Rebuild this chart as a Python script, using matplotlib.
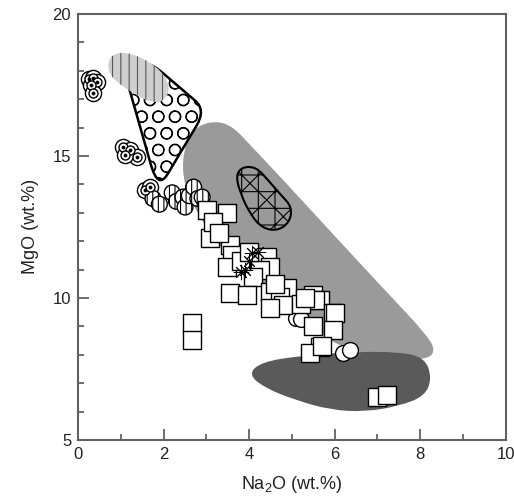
import numpy as np
import matplotlib
matplotlib.use("Agg")
import matplotlib.pyplot as plt
from matplotlib.path import Path
from matplotlib.patches import PathPatch

plt.rcParams['font.family'] = ['Liberation Sans', 'DejaVu Sans']
plt.rcParams['mathtext.default'] = 'regular'
plt.rcParams['hatch.linewidth'] = 0.8

# --- samples (Na2O, MgO in wt.%) ---
bull_na = [0.25, 0.35, 0.45, 0.30, 0.35, 1.05, 1.21, 1.38, 1.10, 1.57, 1.68]
bull_mg = [17.70, 17.75, 17.60, 17.50, 17.20, 15.32, 15.21, 14.96, 15.04, 13.80, 13.91]

hatch_na = [1.75, 1.90, 2.20, 2.30, 2.45, 2.50, 2.60, 2.70, 2.80, 2.90]
hatch_mg = [13.50, 13.30, 13.70, 13.40, 13.55, 13.20, 13.60, 13.90, 13.50, 13.55]

circ_na = [5.10, 5.20, 6.19, 6.36]
circ_mg = [9.30, 9.25, 8.06, 8.17]

sq_na = [3.01, 3.48, 3.08, 3.15, 3.55, 3.60, 3.48, 4.42, 4.49, 4.25, 4.09, 3.55,
         3.95, 4.49, 4.88, 4.72, 4.79, 4.49, 5.49, 5.65, 5.54, 5.96, 6.00, 5.96,
         5.65, 5.42, 6.99, 7.22, 2.66, 2.66, 3.30, 3.80, 4.00, 5.20, 5.30, 5.50,
         5.70, 4.60]
sq_mg = [13.10, 12.99, 12.11, 12.68, 11.87, 11.51, 11.09, 11.44, 11.09, 10.99,
         10.74, 10.18, 10.11, 10.21, 10.35, 10.04, 9.75, 9.65, 10.11, 9.93, 9.93,
         9.47, 9.47, 8.87, 8.27, 8.06, 6.51, 6.58, 9.12, 8.52, 12.30, 11.30, 11.60,
         9.80, 10.00, 9.00, 8.30, 10.50]

star_na = [4.07, 3.90, 4.20, 4.00, 3.80]
star_mg = [11.58, 10.99, 11.60, 11.30, 10.90]

# --- fields (outline vertices, Na2O / MgO) ---
light_na = [0.68, 0.86, 1.21, 1.68, 2.03, 2.15, 1.99, 1.64, 1.17, 0.75]
light_mg = [18.31, 18.63, 18.63, 18.31, 17.85, 17.32, 16.90, 16.90, 17.32, 17.78]

tri_na = [1.03, 1.73, 2.99, 1.87]
tri_mg = [18.24, 18.24, 16.62, 13.80]

big_na = [2.52, 2.80, 3.20, 3.60, 4.02, 4.84, 6.00, 7.17, 8.18, 8.36, 8.11, 7.41,
          6.24, 5.19, 4.21, 3.32, 2.73, 2.41]
big_mg = [15.56, 16.06, 16.23, 16.06, 15.39, 14.08, 12.18, 10.28, 8.66, 8.10,
          7.82, 7.89, 8.17, 9.15, 10.46, 11.76, 13.10, 14.33]

dark_na = [3.97, 4.30, 5.19, 6.36, 7.52, 8.11, 8.27, 8.11, 7.52, 6.71, 5.89, 5.07, 4.37]
dark_mg = [7.32, 7.75, 7.96, 8.10, 8.10, 7.89, 7.18, 6.55, 6.20, 5.99, 6.06, 6.41, 6.83]

drop_na = [3.69, 3.83, 4.16, 4.44, 4.74, 5.00, 4.95, 4.67, 4.30, 4.02, 3.79]
drop_mg = [14.30, 14.61, 14.61, 14.15, 13.63, 13.20, 12.68, 12.36, 12.46, 12.96, 13.70]


def field(xs, ys, t=0.5, **kw):
    # closed outline, corners rounded with quadratic curves
    pts = np.column_stack([xs, ys])
    n = len(pts)
    verts, codes = [], []
    for i in range(n):
        p, prev, nxt = pts[i], pts[i - 1], pts[(i + 1) % n]
        verts += [p + t * (prev - p), p, p + t * (nxt - p)]
        codes += [Path.LINETO, Path.CURVE3, Path.CURVE3]
    codes[0] = Path.MOVETO
    verts.append(verts[0])
    codes.append(Path.CLOSEPOLY)
    return PathPatch(Path(verts, codes), **kw)


fig = plt.figure(figsize=(5.14, 4.96), dpi=100)
ax = fig.add_axes([0.152, 0.113, 0.832, 0.859])

ax.add_patch(field(big_na, big_mg, fc='#9a9a9a', ec='none', zorder=1))
ax.add_patch(field(dark_na, dark_mg, fc='#5a5a5a', ec='none', zorder=1.1))
ax.add_patch(field(tri_na, tri_mg, t=0.2, fc='white', ec='black', lw=1.8,
                   hatch='O', zorder=2))
ax.add_patch(field(light_na, light_mg, fc='#cfcfcf', ec='none', zorder=3))
ax.add_patch(field(light_na, light_mg, fc='none', ec='#555555', lw=0,
                   hatch='||', zorder=3.1))
ax.add_patch(field(drop_na, drop_mg, fc='none', ec='black', lw=1.5,
                   hatch='+x', zorder=2.5))

# bullseye circles
ax.scatter(bull_na, bull_mg, s=135, marker='o', fc='white', ec='black', lw=1.0, zorder=4)
ax.scatter(bull_na, bull_mg, s=42, marker='o', fc='white', ec='black', lw=1.0, zorder=4.1)
ax.scatter(bull_na, bull_mg, s=5, marker='o', fc='black', ec='black', lw=0.5, zorder=4.2)

ax.scatter(hatch_na, hatch_mg, s=130, marker='o', fc='white', ec='black', lw=1.0,
           hatch='|||', zorder=4)
ax.scatter(circ_na, circ_mg, s=130, marker='o', fc='white', ec='black', lw=1.0, zorder=4)
ax.scatter(sq_na, sq_mg, s=150, marker='s', fc='white', ec='black', lw=1.0, zorder=5)
ax.scatter(star_na, star_mg, s=110, marker=(8, 2, 0), c='black', lw=0.7, zorder=6)

ax.set_xlim(0, 10)
ax.set_ylim(5, 20)
ax.set_xticks([0, 2, 4, 6, 8, 10])
ax.set_xticks(np.arange(0, 11, 1), minor=True)
ax.set_yticks([5, 10, 15, 20])
ax.set_yticks(np.arange(5, 21, 1), minor=True)
ax.tick_params(which='both', direction='in', top=False, right=False,
               color='#555555', width=1.2, labelsize=12, labelcolor='#222222', pad=5)
ax.tick_params(which='major', length=8)
ax.tick_params(which='minor', length=4.5)
for sp in ax.spines.values():
    sp.set_color('#606060')
    sp.set_linewidth(1.5)

ax.set_xlabel('Na$_2$O (wt.%)', fontsize=13, color='#222222', labelpad=9)
ax.set_ylabel('MgO (wt.%)', fontsize=13, color='#222222', labelpad=10)

fig.savefig('out.png', dpi=100)
